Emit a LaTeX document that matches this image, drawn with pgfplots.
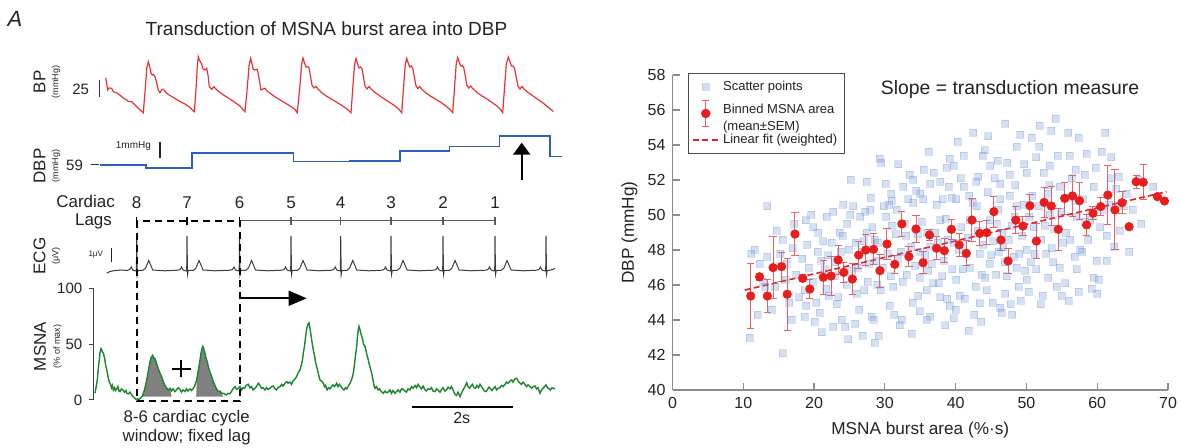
\documentclass[border=0pt]{standalone}
\usepackage{pgfplots}
\pgfplotsset{compat=1.18}
\usetikzlibrary{arrows.meta}
\usepackage{fontspec}
\setmainfont{Liberation Sans}
\definecolor{bpred}{RGB}{235,50,50}
\definecolor{dbpblue}{RGB}{45,95,185}
\definecolor{ecggray}{RGB}{60,60,60}
\definecolor{msnagreen}{RGB}{25,135,45}
\definecolor{scat}{RGB}{105,145,210}
\definecolor{binred}{RGB}{232,30,30}
\definecolor{txt}{RGB}{35,35,35}
\newcommand{\fs}[1]{\fontsize{#1}{#1}\selectfont}
\begin{document}
\begin{tikzpicture}
\path[use as bounding box] (0,0) rectangle (590.5pt,224pt);

% ---------------- right scatter axis ----------------
\begin{axis}[at={(336.25pt,29pt)}, anchor=south west, scale only axis,
  width=247.75pt, height=157.5pt, xmin=0, xmax=70, ymin=40, ymax=58,
  axis lines=left, axis line style={-, black!45, line width=0.6pt},
  tick style={black!45, line width=0.6pt}, tick align=inside, major tick length=3.5pt,
  xtick={0,10,...,70}, ytick={40,42,...,58},
  ticklabel style={font=\fs{8}, text=txt},
  /pgf/number format/assume math mode=true,
  xlabel={MSNA burst area (\%·s)}, ylabel={DBP (mmHg)},
  label style={font=\fs{8.6}, text=txt},
  xlabel style={at={(axis description cs:0.5,-0.127)}, anchor=center},
  ylabel style={at={(axis description cs:-0.087,0.5)}, anchor=center},
  clip=false,
  legend cell align=left,
  legend style={at={(0.032,1.007)}, anchor=north west, draw=black!70, line width=0.5pt,
    font=\fontsize{6.5}{8.4}\selectfont, text=txt, inner sep=1.8pt, row sep=0.4pt}]
\addplot[only marks, mark=square*, mark size=1.75pt, color=scat,
  mark options={draw=scat, fill=scat, opacity=0.28},
  legend image code/.code={\fill[scat, opacity=0.3] (0.22cm,0cm) ++(-1.7pt,-1.7pt) rectangle ++(3.4pt,3.4pt);}]
coordinates {
(10.9,43.0)(11.1,47.8)(11.6,48.0)(12.3,47.2)(12.8,46.2)(13.1,45.9)(13.4,50.5)(13.4,47.6)(14.0,44.6)(14.7,49.1)
(15.2,47.8)(15.6,48.6)(15.6,42.1)(16.1,47.2)(16.5,45.0)(16.8,44.0)(17.0,48.1)(17.5,46.6)(17.9,45.3)(18.3,47.5)
(18.7,45.7)(18.9,44.8)(18.7,44.2)(18.8,49.7)(19.2,47.0)(19.6,50.0)(19.9,49.3)(19.8,46.2)(20.3,45.0)(20.6,49.0)
(20.8,44.4)(21.1,43.3)(21.3,48.5)(21.5,46.9)(21.8,49.9)(22.1,45.4)(22.5,48.4)(22.7,50.2)(22.7,43.6)(23.0,47.3)
(23.2,44.9)(23.4,45.3)(23.6,49.0)(23.9,44.0)(24.1,50.6)(24.4,43.6)(24.6,46.0)(24.9,48.0)(25.1,50.0)(25.5,50.5)
(25.8,43.8)(26.0,45.5)(26.2,47.0)(26.5,49.9)(26.9,43.1)(27.2,50.2)(27.4,49.0)(27.6,46.2)(27.9,50.3)(28.1,44.2)
(28.4,44.0)(28.6,48.6)(28.8,47.4)(29.1,43.1)(29.3,53.2)(29.5,53.0)(29.4,45.7)(29.8,50.5)
(30.2,49.9)(30.4,47.8)(30.7,44.8)(30.9,51.2)(31.2,45.9)(31.5,48.9)(31.8,47.5)(32.1,43.7)(32.4,44.0)(32.6,51.6)
(32.8,49.5)(33.1,46.6)(33.5,52.3)(33.7,48.2)(34.0,52.0)(34.0,50.7)(34.3,47.1)(34.7,45.4)(34.9,46.4)(35.2,49.6)
(35.4,50.9)(35.7,47.7)(35.9,44.0)(35.9,45.7)(36.4,48.2)(36.4,51.8)(36.4,44.2)(36.8,46.1)(37.1,49.0)(37.3,50.6)
(37.8,51.9)(37.8,49.7)(37.8,45.3)(38.3,47.4)(38.7,52.7)(38.9,48.6)(39.2,53.2)(39.2,44.8)(39.5,46.9)(39.7,52.8)
(39.7,48.4)(39.7,44.1)
(40.1,50.9)(40.1,46.3)(40.6,45.4)(40.8,49.3)(41.1,53.4)(41.1,51.6)(41.4,47.8)(41.8,43.4)(42.0,49.7)(42.0,47.0)
(42.5,54.7)(42.8,45.9)(43.0,50.5)(43.4,47.8)(43.4,44.95)(43.8,53.4)(44.1,53.7)(44.4,45.7)(44.8,49.7)(44.8,47.2)
(44.9,52.8)(45.3,48.5)(45.7,46.6)(46.0,50.3)(46.3,51.8)(46.3,50.9)(46.3,44.7)(46.5,44.4)(46.7,48.2)(47.0,45.5)
(47.2,46.5)(47.6,52.3)(47.6,51.1)(47.9,49.4)(48.2,47.6)(48.6,53.9)(48.6,50.5)(48.6,47.0)(48.9,45.9)(49.1,54.6)
(49.4,48.8)(49.8,46.8)
(50.0,52.4)(50.0,48.0)(50.0,46.3)(50.4,49.9)(51.0,49.3)(51.4,53.3)(51.4,46.9)(51.9,55.1)(52.1,48.6)(52.4,52.4)
(52.8,47.8)(53.1,46.4)(53.3,52.8)(53.3,50.0)(53.5,54.8)(53.9,49.2)(54.3,45.9)(54.7,51.6)(54.7,47.0)(55.2,48.4)
(55.6,49.0)(55.9,54.7)(56.4,52.1)(56.8,47.6)(57.1,49.9)(57.1,46.9)(57.6,48.0)(58.0,50.9)(58.5,53.5)(58.7,48.6)
(59.2,45.8)(59.5,51.6)(59.5,46.4)(59.9,47.4)
(60.4,49.3)(60.6,53.6)(61.1,54.7)(61.3,48.8)(61.3,47.4)(62.0,53.3)(62.7,51.5)(63.2,49.1)(64.2,51.2)(65.0,50.3)
(66.2,49.5)(67.9,51.6)
(26.8,47.9)(27.8,47.2)(30.8,46.5)(31.0,49.4)(32.2,47.9)(33.0,48.8)(34.6,48.9)(35.0,47.9)(36.0,49.0)(36.6,47.2)
(37.5,48.4)(38.1,46.5)(38.6,49.8)(40.4,48.0)(41.0,46.9)(41.7,48.7)(42.4,50.7)(43.1,49.1)(43.9,48.3)(44.2,46.4)
(45.0,47.7)(45.8,49.5)(46.9,47.3)(47.5,48.6)(48.3,49.9)(49.0,47.8)(50.6,47.3)(51.7,50.5)(52.6,49.4)(53.6,48.1)
(54.9,50.2)(56.2,48.6)(57.9,47.9)(55.5,46.1)(58.3,49.6)(60.9,50.3)(22.0,47.7)(24.0,48.8)(25.4,46.8)(28.2,49.3)
(29.0,48.4)(19.0,48.3)(21.0,47.4)(16.0,46.3)
(20.5,47.9)(21.7,45.8)(22.9,46.5)(23.8,47.9)(24.7,49.5)(25.9,48.4)(26.4,44.6)(27.1,45.7)(28.0,51.0)(28.9,46.0)
(29.7,47.0)(30.1,51.8)(30.6,50.6)(31.3,44.3)(31.7,50.3)(32.5,46.2)(33.3,50.9)(33.9,45.0)(34.4,51.4)(34.9,44.5)
(35.5,52.6)(36.1,46.8)(36.9,52.4)(37.6,46.1)(38.2,50.9)(38.8,45.2)(39.4,51.0)(40.0,44.6)(40.7,52.1)(41.3,45.2)
(41.9,51.1)(42.6,44.3)(43.2,52.2)(43.7,46.6)(44.5,51.3)(45.2,45.0)(45.9,53.1)(46.6,49.0)(47.3,53.0)(47.8,44.9)
(48.4,51.7)(49.2,45.1)(49.7,52.9)(50.3,45.6)(50.8,51.1)(51.2,47.8)(51.8,53.9)(52.3,45.4)(53.0,51.2)(53.8,47.3)
(54.4,53.4)(55.0,45.4)(55.7,51.0)(56.1,53.4)(56.9,50.8)(57.4,45.6)(58.2,52.3)(59.0,49.7)(59.8,52.7)(60.2,46.3)
(61.7,50.6)(62.4,48.2)(63.0,52.2)(64.5,47.9)(65.8,52.0)(20.1,43.9)(17.2,49.5)(14.5,45.9)(12.0,44.3)(25.2,52.0)
(27.4,51.9)(31.9,52.9)(36.2,53.6)(40.3,54.2)(44.6,54.5)(47.0,55.2)(50.7,54.4)(54.1,55.5)(57.4,54.4)(38.5,43.7)
(33.8,43.2)(28.6,42.7)(24.8,42.9)(43.6,43.9)(48.0,44.3)(52.0,44.9)(56.0,45.1)(60.0,45.5)(45.5,52.1)(42.9,51.9)
(39.0,51.6)(35.0,51.2)(31.0,50.8)(27.0,48.5)(46.1,47.9)(49.6,50.6)(53.2,51.7)(57.0,52.6)(61.9,52.1)(63.7,50.5)
};
\addlegendentry{Scatter points}
\addplot[only marks, mark=*, mark size=2.1pt, color=binred, forget plot,
  error bars/.cd, y dir=both, y explicit,
  error bar style={line width=0.5pt, color=binred!70},
  error mark options={rotate=90, mark size=1.8pt, line width=0.5pt, color=binred!70}]
  table[row sep=\\, x index=0, y index=1, y error index=2] {
11.05 45.37 1.86\\ 12.3 46.47 0.2\\ 13.4 45.37 0.92\\ 14.2 46.99 1.76\\ 15.4 47.05 0.83\\
16.2 45.47 2.05\\ 17.3 48.91 1.21\\ 18.4 46.38 0.2\\ 19.4 45.77 0.52\\ 21.3 46.44 0.98\\
22.4 46.51 1.12\\ 23.4 47.43 0.81\\ 24.2 46.72 0.57\\ 25.4 46.34 0.9\\ 26.3 47.71 0.78\\
27.3 48.0 0.88\\ 28.4 48.04 0.88\\ 29.3 46.82 0.95\\ 30.3 48.34 0.86\\ 31.4 47.18 0.52\\
32.4 49.49 0.71\\ 33.4 47.62 0.57\\ 34.4 49.2 0.79\\ 35.4 47.27 0.62\\ 36.3 48.86 0.3\\
37.3 48.1 0.67\\ 38.4 47.96 0.67\\ 39.4 49.18 0.57\\ 40.5 48.29 0.67\\ 41.5 47.81 0.71\\
42.3 49.71 1.22\\ 43.4 48.95 0.67\\ 44.4 48.99 0.67\\ 45.4 50.19 0.88\\ 46.4 48.57 0.62\\
47.4 47.37 0.73\\ 48.5 49.71 0.76\\ 49.5 49.37 0.55\\ 50.5 50.53 0.62\\ 51.4 48.51 1.0\\
52.5 50.72 0.86\\ 53.5 50.51 1.1\\ 54.5 49.18 1.19\\ 55.4 50.95 0.9\\ 56.5 51.09 1.19\\
57.5 50.82 1.05\\ 58.5 49.43 0.62\\ 59.4 50.1 0.38\\ 60.5 50.48 0.52\\ 61.5 51.14 1.67\\
62.5 50.29 2.29\\ 63.5 50.7 0.64\\ 64.5 49.33 0.0\\ 65.5 51.9 0.38\\ 66.5 51.87 1.0\\
68.5 51.05 0.0\\ 69.5 50.8 0.0\\
};
\addlegendimage{legend image code/.code={
  \draw[binred!70, line width=0.5pt] (0.22cm,-0.23cm) -- (0.22cm,0.23cm);
  \draw[binred!70, line width=0.5pt] (0.16cm,-0.23cm) -- (0.28cm,-0.23cm);
  \draw[binred!70, line width=0.5pt] (0.16cm,0.23cm) -- (0.28cm,0.23cm);
  \fill[binred] (0.22cm,0cm) circle (2.1pt);}}
\addlegendentry{\begin{tabular}{@{}l@{}}Binned MSNA area\\(mean±SEM)\end{tabular}}
\addplot[binred, line width=0.8pt, dash pattern=on 3pt off 1.6pt, forget plot]
  coordinates {(10.2,45.71) (69.8,51.33)};
\addlegendimage{legend image code/.code={\draw[binred, line width=0.8pt, dash pattern=on 3pt off 1.6pt] (0cm,0cm) -- (0.44cm,0cm);}}
\addlegendentry{Linear fit (weighted)}
\end{axis}

% ---------------- MSNA axis ----------------
\begin{axis}[at={(46.65pt,24pt)}, anchor=south west, scale only axis,
  width=233.35pt, height=55.85pt, xmin=93.3, xmax=560, ymin=0, ymax=100,
  axis x line=none, axis y line=left, xtick=\empty,
  y axis line style={-, black!75, line width=0.5pt},
  tick style={black!75, line width=0.5pt}, tick align=outside, major tick length=2pt,
  ytick={0,50,100}, ticklabel style={font=\fs{7.5}, text=txt},
  /pgf/number format/assume math mode=true, clip=false]
\addplot[fill=black!50, draw=none] coordinates {
(142.7,3)(142.7,4)(143.3,6)(144.5,9)(145.5,13)(146.5,17)(147.3,21)(148.5,27)(150,34)(151,38)(152,39)(152.7,40)
(153.5,38)(155,37)(156.5,33)(158.3,28)(160,24)(161.7,21)(163,17)(165,13)(166.5,11)(168.3,9)(170,10.5)(171.5,3)};
\addplot[fill=black!50, draw=none] coordinates {
(196.2,3)(196.7,18)(198,25)(199,30)(200,36)(201,42)(202,46)(202.7,48)(203.5,47)(204.2,44)(205,42)(206,38)
(207,35)(208.3,30)(210,25)(211.7,21)(213,17)(214,15)(215,13)(216.5,10)(218.3,7.5)(220,8)(221.5,6)(223.3,3)};
\addplot[msnagreen, line width=0.7pt] coordinates {
(95,6)(96.2,12)(97.3,18)(98.5,30)(100,42)(101,46)(101.7,45)(102.5,43)(103.3,42)(104.5,38)(105.5,32)(106.7,27)
(108,21)(109,17)(110,15)(111.5,11)(112.3,13)(113.3,9)(114.5,11)(115.5,8.5)(116.7,10)(118,12)(119,8)(120,7.5)(121.5,10)
(123,9)(124.5,7)(126,8.5)(126.7,6)(128.5,5.5)(130,7)(131.7,4.5)(133,3)(134.5,2)(136,0.5)(137.5,1)(139,0.5)
(140,1.5)(141.5,2.5)(142.7,4)(143.3,6)(144.5,9)(145.5,13)(146.5,17)(147.3,21)(148.5,27)(150,34)(151,38)(152,39)
(152.7,40)(153.5,38)(155,37)(156.5,33)(158.3,28)(160,24)(161.7,21)(163,17)(165,13)(166.5,11)(168.3,9)(170,10.5)
(171.5,8)(173,10)(175,7.5)(176.5,9)(178,11)(180,9.5)(181.5,7)(183,9)(185,7.5)(186.5,10)(188,8)(190,10)
(191.5,8.5)(193,10)(194.5,12)(195.5,15)(196.7,18)(198,25)(199,30)(200,36)(201,42)(202,46)(202.7,48)(203.5,47)
(204.2,44)(205,42)(206,38)(207,35)(208.3,30)(210,25)(211.7,21)(213,17)(214,15)(215,13)(216.5,10)(218.3,7.5)
(220,8)(221.5,6)(223.3,6)(225,5)(226.5,4.5)(228,6)(230,5.5)(231.7,8)(233,10)(235,12)(236.5,9.5)(238.3,10.5)
(240,12)(241.5,9)(243,11)(244.5,10.5)(246,13)(248.3,14)(250,11)(251.5,12)(253,9)(255,10.5)(256.5,12)(258.3,15)
(260,13)(261.5,10.5)(263,11)(265,9)(266.5,11)(268,9.5)(270,10.5)(271.5,12)(273.3,12.5)(275,10)(276.5,9)(278,11)
(280,12)(281.7,14)(283,12.5)(285,15)(286.7,16.5)(288,15)(290,16)(291.5,14)(293,17)(295,19)(296.7,21)(298,24)
(300,27)(301.5,32)(302.5,36)(303.3,42)(304.5,48)(305.5,56)(306.7,64)(308,68)(309,69)(309.7,66)(310.7,60)
(311.5,55)(312.3,50)(313.3,45)(314.5,40)(315.5,34)(316.7,30)(318,25)(319,21)(320,18)(321.5,17)(323.3,15)
(324.5,12)(325.5,13)(327,9)(328.5,11)(330,10)(331.5,12)(333,13.5)(334.5,12)(336.7,15)(338,12)(339.5,14)(341,12)
(342.5,10)(344,9)(345.5,11)(347,10)(348.5,13)(350,15)(351.5,18)(352.5,21)(353.3,24)(354.5,32)(355.5,40)
(356.7,48)(357.5,57)(358.3,63)(359,66)(359.7,64)(360.7,60)(361.7,57)(362.7,54)(363.5,50)(365,48)(366,44)(367,40)
(368.3,36)(369.5,31)(370.5,28)(371.7,24)(373,18)(374,13)(375,10.5)(376.5,12)(378,9)(379.5,10)(381,8)(383.3,6)
(385,8)(386.5,6.5)(388,7)(390,9)(391.5,6)(393,8.5)(395,6)(396.5,7.5)(398,9)(400,7)(401.5,10)(403.3,9.5)(405,8)
(406.5,7)(408,10)(410,9)(411.5,12)(413,10.5)(415,13)(416.5,11)(418,14)(420,11.5)(421.5,10)(423,12.5)(425,9)
(426.5,8)(428,10)(430,9.5)(431.5,11)(433,8)(435,7.5)(436.5,10)(438,9)(440,7)(441.5,9.5)(443,11)(445,8)(446.5,9)
(448,11.5)(450,10)(451.5,12)(453,9)(455,5)(456.5,4)(458,7)(460,3)(461.5,6)(463,9)(465,12)(466.7,15.5)(468,12)
(469.5,10.5)(471,12.5)(472.5,14)(474,11)(475.5,10.5)(477,13)(478.5,11)(480,14)(481.5,12)(483,10)(484.5,8)
(486,7.5)(487.5,9.5)(489,11.5)(490.5,10)(492,8.5)(493.5,10.5)(495,12)(496.5,9)(498,10.5)(500,11)(501.5,13)
(503,12)(505,14)(506.5,16)(508,15)(510,17)(511.7,18)(513,16)(515,19)(516.7,19.5)(518,17)(520,15)(521.5,14)
(523,16)(525,14)(526.5,12)(528,13.5)(530,12)(531.5,10.5)(533,12)(535,12.5)(536.5,10)(538,11)(540,6)(541.5,9)
(543,10.5)(544.5,12)(546,13.5)(547.5,11)(549,10)(550.5,9)(552,11)(553.5,10)(555,10.5)};
\end{axis}

% ---------------- overlay axis in image pixels ----------------
\begin{axis}[at={(0pt,0pt)}, anchor=south west, scale only axis,
  width=590.5pt, height=224pt, xmin=0, xmax=1181, ymin=0, ymax=448,
  y dir=reverse, hide axis, clip=false]
% BP trace
\addplot[bpred, line width=0.6pt] coordinates {
(105.7,77.7)(107.7,90)(109,88)(111.7,88.3)(113.3,91.7)(117,93)(121,96)(124,98.5)(126.7,100)(128.3,101.5)
(131.7,101.7)(134,104)(137,107)(140,110)(143.3,112.7)
(145.3,88)(146.8,68)(148.3,61.7)(149.8,67)(150.8,73)(152.3,75)(153.3,74.5)(155,76.5)(156.5,82)(158.3,90)
(160,92.7)(161.8,89.5)(163.3,89.3)(166.7,93.3)(170,95.5)(175,98.5)(180,101.5)(185,104)(190,107.5)(193.3,111)
(194.3,111.7)(196.3,85)(197.3,66)(198.3,56.7)(199.8,61)(201.7,64)(203,69)(205,70)(206.7,68.3)(208,75)
(209.3,86.7)(211.7,89.3)(214,86.7)(216,89)(220,92.5)(225,96)(230,99)(235,102.5)(240,106)(245,111.7)
(247.5,85)(249,66)(250.7,58.3)(252,64)(253.3,69.3)(255,70)(257.3,69.3)(259,78)(261,90)(263,89)(265,88.3)
(267,91)(271,94)(276,97.5)(281,100.5)(286,103.5)(291,106.5)(295,109.5)(297.3,112.7)
(300,85)(301.5,65)(303,58)(304.5,63)(306,67)(307.5,66.5)(309,68)(310.5,76)(312,85)(314,88)(316,86.5)(318,89)
(322,93)(327,96.5)(332,99.5)(337,102.5)(342,105.5)(347,109)(351,112.7)
(353,85)(354.5,65)(356,58.5)(357.5,64)(359,68)(360.5,67)(362,69)(363.5,77)(365,86)(367,89)(369,86.5)(371,89)
(375,92.5)(380,96)(385,99.5)(390,102.5)(395,106)(399,109.5)(401.7,112.7)
(403.7,85)(405.2,65)(406.7,58.5)(408.2,63)(409.7,67)(411.2,66)(412.7,68)(414.2,76)(415.7,85)(417.7,88.5)
(419.7,86.5)(421.7,89)(426,93)(431,96.5)(436,99.5)(441,102.5)(446,106)(450,109.5)(452.7,112.7)
(454.7,85)(456.2,64)(457.7,57.5)(459.2,62)(460.7,66)(462.2,65.5)(463.7,67.5)(465.2,75)(466.7,85)(468.7,88)
(470.7,86)(472.7,88.5)(477,92.5)(482,96)(487,99)(492,102.5)(497,106)(500.5,109.5)(502.7,112.7)
(504.7,85)(506.3,64)(508.3,57)(510,62)(511.5,66)(513,66)(514.5,68)(516,76)(518,86)(520,89)(522,86.5)(524,89)
(528,92.5)(533,96)(538,99.5)(543,103)(548,107)(551,109.5)(553.3,111.5)};
% DBP step
\addplot[dbpblue, line width=0.8pt] coordinates {
(100,165)(146,165)(146,168.3)(191.7,168.3)(191.7,153.3)(293.3,153.3)(293.3,161.7)(350,161.7)(350,161)(400,161)
(400,151)(449.3,151)(449.3,146.7)(499.3,146.7)(499.3,136)(550,136)(550,156.7)(561.7,156.7)};
% ECG
\addplot[ecggray, line width=0.5pt] coordinates {
(106.7,273.3)(110,271.5)(115,270.5)(122,270)(127,270.5)(129.7,269.5)(131.2,267)(132.7,270)(135.7,271)(136.4,271)
(136.7,236)(137.2,274.5)(138,270.5)(142.7,270.5)(145.7,268)(148.7,260.5)(150.7,265)(152.7,270)(164.7,270.8)(178,270.2)(180,269.5)(181.5,267)(183,270)(186,271)(186.7,271)
(187,236)(187.5,274.5)(188.3,270.5)(193,270.5)(196,268)(199,260.5)(201,265)(203,270)(215,270.8)(230.5,270.2)(232.5,269.5)(234,267)(235.5,270)(238.5,271)(239.2,271)
(239.5,236)(240,274.5)(240.8,270.5)(245.5,270.5)(248.5,268)(251.5,260.5)(253.5,265)(255.5,270)(267.5,270.8)(282,270.2)(284,269.5)(285.5,267)(287,270)(290,271)(290.7,271)
(291,236)(291.5,274.5)(292.3,270.5)(297,270.5)(300,268)(303,260.5)(305,265)(307,270)(319,270.8)(331.7,270.2)(333.7,269.5)(335.2,267)(336.7,270)(339.7,271)(340.4,271)
(340.7,236)(341.2,274.5)(342,270.5)(346.7,270.5)(349.7,268)(352.7,260.5)(354.7,265)(356.7,270)(368.7,270.8)(382,270.2)(384,269.5)(385.5,267)(387,270)(390,271)(390.7,271)
(391,236)(391.5,274.5)(392.3,270.5)(397,270.5)(400,268)(403,260.5)(405,265)(407,270)(419,270.8)(434,270.2)(436,269.5)(437.5,267)(439,270)(442,271)(442.7,271)
(443,236)(443.5,274.5)(444.3,270.5)(449,270.5)(452,268)(455,260.5)(457,265)(459,270)(471,270.8)(486,270.2)(488,269.5)(489.5,267)(491,270)(494,271)(494.7,271)
(495,236)(495.5,274.5)(496.3,270.5)(501,270.5)(504,268)(507,260.5)(509,265)(511,270)(523,270.8)(537,270.2)(539,269.5)(540.5,267)(542,270)(545,271)(545.7,271)
(546,236)(546.5,274.5)(547.3,270.5)(551,270)(555,268.5)};

% texts
\node[font=\fs{11}\itshape, text=txt] at (axis cs:15,19) {A};
\node[font=\fs{9.5}, text=txt] at (axis cs:326.5,28.5) {Transduction of MSNA burst area into DBP};
\node[font=\fs{9.7}, text=txt] at (axis cs:1010,89) {Slope = transduction measure};
\node[font=\fs{8.5}, text=txt, rotate=90] at (axis cs:39.5,82) {BP};
\node[font=\fs{4.5}, text=txt, rotate=90] at (axis cs:56,82) {(mmHg)};
\node[font=\fs{8.5}, text=txt, rotate=90] at (axis cs:39.5,166) {DBP};
\node[font=\fs{4.5}, text=txt, rotate=90] at (axis cs:56,166) {(mmHg)};
\node[font=\fs{8.5}, text=txt, rotate=90] at (axis cs:39.5,256) {ECG};
\node[font=\fs{4.5}, text=txt, rotate=90] at (axis cs:56,256) {(μV)};
\node[font=\fs{8.5}, text=txt, rotate=90] at (axis cs:40,346.5) {MSNA};
\node[font=\fs{4.5}, text=txt, rotate=90] at (axis cs:57.5,346.5) {(\% of max)};
% scale bars
\node[font=\fs{7.5}, text=txt, anchor=east] at (axis cs:96,89) {25};
\draw[black!80, line width=0.6pt] (axis cs:99.3,80) -- (axis cs:99.3,96.7);
\node[font=\fs{7.5}, text=txt, anchor=east] at (axis cs:90,165) {59};
\draw[black!80, line width=0.5pt] (axis cs:90.5,164.5) -- (axis cs:98.5,164.5);
\node[font=\fs{5}, text=txt, anchor=east] at (axis cs:158,146.5) {1mmHg};
\draw[black!85, line width=0.7pt] (axis cs:160,141.7) -- (axis cs:160,158.3);
\node[font=\fs{4}, text=txt, anchor=east] at (axis cs:110,255) {1μV};
\draw[black!85, line width=0.7pt] (axis cs:111.7,248.3) -- (axis cs:111.7,261.7);
\draw[black, line width=1.2pt, -{Triangle[length=6pt,width=8.5pt]}] (axis cs:521.7,180) -- (axis cs:521.7,142.7);
% cardiac lags
\node[font=\fs{8.5}, text=txt, anchor=east] at (axis cs:122,201.7) {Cardiac};
\node[font=\fs{8.5}, text=txt, anchor=east] at (axis cs:119,221.7) {Lags};
\node[font=\fs{8.5}, text=txt] at (axis cs:136.7,202.7) {8};
\node[font=\fs{8.5}, text=txt] at (axis cs:187,202.7) {7};
\node[font=\fs{8.5}, text=txt] at (axis cs:239.5,202.7) {6};
\node[font=\fs{8.5}, text=txt] at (axis cs:291,202.7) {5};
\node[font=\fs{8.5}, text=txt] at (axis cs:340.7,202.7) {4};
\node[font=\fs{8.5}, text=txt] at (axis cs:391,202.7) {3};
\node[font=\fs{8.5}, text=txt] at (axis cs:443,202.7) {2};
\node[font=\fs{8.5}, text=txt] at (axis cs:495,202.7) {1};
\draw[black!65, line width=0.6pt] (axis cs:239.5,220.7) -- (axis cs:495,220.7);
\draw[black!65, line width=0.6pt] (axis cs:291,216.7) -- (axis cs:291,225);
\draw[black!65, line width=0.6pt] (axis cs:340.7,216.7) -- (axis cs:340.7,225);
\draw[black!65, line width=0.6pt] (axis cs:391,216.7) -- (axis cs:391,225);
\draw[black!65, line width=0.6pt] (axis cs:443,216.7) -- (axis cs:443,225);
\draw[black!65, line width=0.6pt] (axis cs:495,216.7) -- (axis cs:495,225);
\draw[black, line width=0.7pt] (axis cs:136.7,216.7) -- (axis cs:136.7,225);
\draw[black, line width=0.7pt] (axis cs:187,216.7) -- (axis cs:187,225);
\draw[black, line width=0.7pt] (axis cs:239.5,216.7) -- (axis cs:239.5,225);
\draw[black, line width=1pt, dash pattern=on 3.5pt off 2.5pt]
  (axis cs:136.7,220.7) -- (axis cs:136.7,400.7) -- (axis cs:239.5,400.7) -- (axis cs:239.5,220.7) -- cycle;
\draw[black, line width=0.8pt, -{Triangle[length=9pt,width=7.5pt]}] (axis cs:240,298.3) -- (axis cs:306.7,298.3);
\draw[black, line width=1.1pt] (axis cs:171.7,368.7) -- (axis cs:190.7,368.7);
\draw[black, line width=1.1pt] (axis cs:181.2,360) -- (axis cs:181.2,377.3);
\node[font=\fs{8.4}, text=txt] at (axis cs:186.7,418.3) {8-6 cardiac cycle};
\node[font=\fs{8.4}, text=txt] at (axis cs:186.7,437.5) {window; fixed lag};
\draw[black, line width=1.1pt] (axis cs:411.7,406.7) -- (axis cs:512.7,406.7);
\node[font=\fs{8}, text=txt] at (axis cs:461.7,418.3) {2s};
\end{axis}
\end{tikzpicture}
\end{document}
